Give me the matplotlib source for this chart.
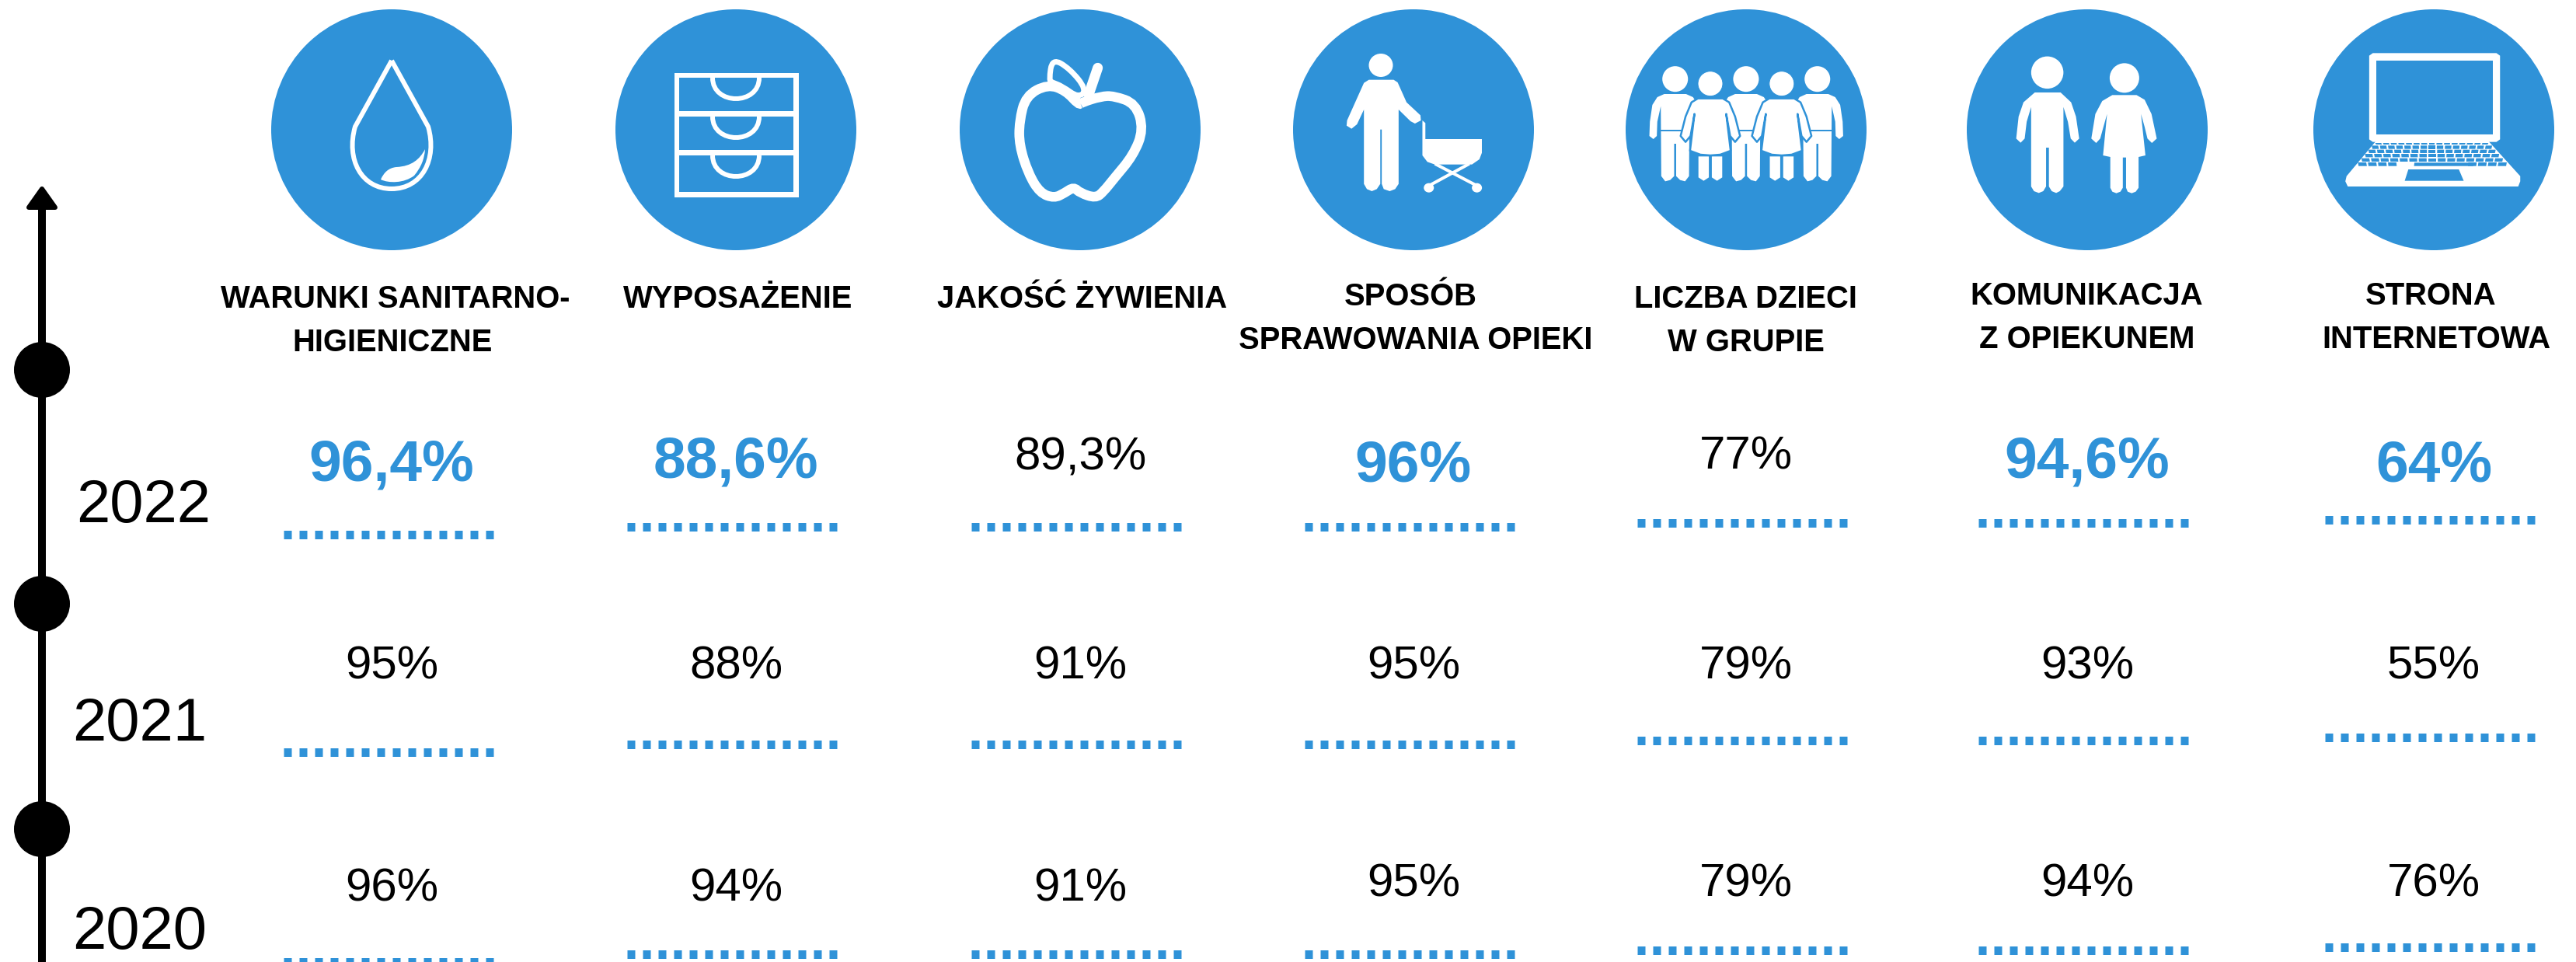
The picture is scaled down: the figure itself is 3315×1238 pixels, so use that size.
"""
Infographic: satisfaction ratings per category over three years, with icon row and year timeline
"""

import matplotlib

matplotlib.use("Agg")
import matplotlib.pyplot as plt
from matplotlib.patches import Circle, Ellipse, PathPatch, Polygon, Rectangle
from matplotlib.path import Path

plt.rcParams["font.family"] = ["Liberation Sans", "DejaVu Sans"]

BLUE = "#2f92d8"
W, H = 3315, 1238

# data
categories = [
    ["WARUNKI SANITARNO-", "HIGIENICZNE"],
    ["WYPOSAŻENIE"],
    ["JAKOŚĆ ŻYWIENIA"],
    ["SPOSÓB", "SPRAWOWANIA OPIEKI"],
    ["LICZBA DZIECI", "W GRUPIE"],
    ["KOMUNIKACJA", "Z OPIEKUNEM"],
    ["STRONA", "INTERNETOWA"],
]
years = ["2022", "2021", "2020"]
values_2022 = [96.4, 88.6, 89.3, 96, 77, 94.6, 64]
values_2021 = [95, 88, 91, 95, 79, 93, 55]
values_2020 = [96, 94, 91, 95, 79, 94, 76]
highlight_2022 = [True, True, False, True, False, True, True]

# layout, in pixels of the output picture
icon_x = [504, 947, 1390, 1819, 2247, 2686, 3132]
icon_y = 167
icon_r = 155
label_x = [[509, 505.5], [949.5], [1393], [1815, 1822], [2246, 2247], [2685, 2686], [3128, 3135]]
label_base = [[396, 452], [396], [396], [393, 449], [396, 452], [392, 448], [392, 448]]
value_y_2022 = [592, 587, 582, 592, 582, 587, 592]
value_y_2021 = [852] * 7
value_y_2020 = [1137, 1137, 1137, 1131, 1131, 1131, 1131]
dots_x = [365, 807, 1250, 1679, 2107, 2546, 2992]
dots_y = [688, 678, 678, 678, 673, 673, 669]
dots_step = [0, 280, 549.5]
year_x = [185, 180, 180]
year_base = [672, 953, 1221]
node_y = [476, 777, 1067]


def px(n):
    return n * 0.72


def zmap(points, x0, fx, fy):
    return [(x0 + x / fx, y / fy) for x, y in points]


def smooth_closed(points):
    # quadratic spline through the midpoints of a closed polygon
    mid = lambda a, b: ((a[0] + b[0]) / 2, (a[1] + b[1]) / 2)
    n = len(points)
    verts = [mid(points[-1], points[0])]
    codes = [Path.MOVETO]
    for i in range(n):
        verts += [points[i], mid(points[i], points[(i + 1) % n])]
        codes += [Path.CURVE3, Path.CURVE3]
    return Path(verts, codes)


def white_poly(ax, points, edge="white", lw=1.5, z=3):
    ax.add_patch(Polygon(points, closed=True, facecolor="white", edgecolor=edge,
                         linewidth=px(lw), joinstyle="round", zorder=z))


def blue_poly(ax, points, z=4):
    ax.add_patch(Polygon(points, closed=True, facecolor=BLUE, edgecolor="none", zorder=z))


def draw_drop(ax):
    outline = Path(
        [(504, 78), (457, 163), (445, 205), (465, 243), (504, 243), (543, 243), (563, 205),
         (551, 163), (504, 78)],
        [Path.MOVETO, Path.LINETO, Path.CURVE4, Path.CURVE4, Path.CURVE4, Path.CURVE4,
         Path.CURVE4, Path.CURVE4, Path.LINETO],
    )
    ax.add_patch(PathPatch(outline, fill=False, edgecolor="white", linewidth=px(6),
                           joinstyle="miter", zorder=3))
    leaf = Path(
        [(547, 192), (540, 205), (530, 214), (510, 215), (500, 216), (494, 222), (490, 231),
         (500, 236), (520, 236), (533, 226), (542, 215), (546, 205), (547, 192)],
        [Path.MOVETO] + [Path.CURVE4] * 12,
    )
    ax.add_patch(PathPatch(leaf, facecolor="white", edgecolor="none", zorder=3))


def draw_drawers(ax):
    ax.add_patch(Rectangle((868, 94), 160, 160, facecolor="white", edgecolor="none", zorder=3))
    for top, bottom in [(100, 143), (150, 193), (200, 247)]:
        ax.add_patch(Rectangle((874, top), 147, bottom - top, facecolor=BLUE, zorder=4))
        handle = Path(
            [(917, top), (917, top + 36), (977, top + 36), (977, top)],
            [Path.MOVETO, Path.CURVE4, Path.CURVE4, Path.CURVE4],
        )
        ax.add_patch(PathPatch(handle, fill=False, edgecolor="white", linewidth=px(6), zorder=5))


def draw_apple(ax):
    apple = [(578, 395), (650, 372), (700, 370), (785, 400), (815, 500), (775, 600), (700, 690),
             (660, 740), (630, 765), (570, 745), (545, 722), (510, 745), (470, 765), (415, 745),
             (370, 670), (335, 560), (335, 470), (360, 370), (445, 325), (515, 350), (565, 405)]
    ax.add_patch(PathPatch(smooth_closed(zmap(apple, 1200, 3, 3)), fill=False, edgecolor="white",
                           linewidth=px(12.5), zorder=3))
    leaf = [(450, 310), (462, 225), (530, 265), (595, 345), (565, 378), (500, 332), (462, 318)]
    ax.add_patch(PathPatch(smooth_closed(zmap(leaf, 1200, 3, 3)), fill=False, edgecolor="white",
                           linewidth=px(7), zorder=3))
    stem = zmap([(603, 365), (638, 262)], 1200, 3, 3)
    ax.plot(*zip(*stem), color="white", lw=px(13), solid_capstyle="round", zorder=3)


def draw_caregiver(ax):
    m = lambda p: zmap(p, 1620, 1.568, 3)
    ax.add_patch(Ellipse((1777, 84), 31, 30, facecolor="white", zorder=3))
    body = [(222, 308), (272, 308), (280, 318), (298, 395), (326, 445), (327, 465), (315, 477),
            (306, 468), (282, 423), (282, 710), (275, 730), (264, 738), (252, 730), (248, 710),
            (248, 500), (245, 500), (245, 710), (238, 730), (228, 738), (218, 730), (212, 710),
            (212, 423), (198, 480), (187, 497), (177, 485), (178, 465), (212, 320)]
    white_poly(ax, m(body), edge="none")
    pram = [(330, 465), (336, 475), (336, 537), (450, 537), (450, 590), (445, 615), (430, 635),
            (355, 635), (340, 625), (330, 600)]
    white_poly(ax, m(pram), edge="none")
    for line in ([(358, 635), (435, 712)], [(422, 635), (348, 712)]):
        ax.plot(*zip(*m(line)), color="white", lw=px(4), zorder=3)
    for wx in (343, 440):
        cx, cy = m([(wx, 725)])[0]
        ax.add_patch(Ellipse((cx, cy), 13, 12, facecolor="white", zorder=3))


def draw_group(ax):
    m = lambda p: zmap(p, 1620, 1.568, 3)
    boy = [(-22, 363), (22, 363), (36, 375), (46, 405), (51, 470), (52, 525), (44, 537), (37, 525),
           (36, 470), (29, 410), (28, 680), (20, 700), (10, 695), (2, 680), (2, 555), (-2, 555),
           (-2, 680), (-10, 695), (-20, 700), (-28, 680), (-29, 410), (-36, 470), (-37, 525),
           (-44, 537), (-52, 525), (-51, 470), (-46, 405), (-36, 375)]
    girl = [(-25, 380), (25, 380), (38, 395), (50, 450), (60, 525), (50, 548), (40, 525), (32, 440),
            (41, 582), (20, 597), (0, 600), (-20, 597), (-41, 582), (-32, 440), (-40, 525),
            (-50, 548), (-60, 525), (-50, 450), (-38, 395)]
    for cx in (840, 983, 1127):
        white_poly(ax, m([(cx + dx, y) for dx, y in boy]), edge="none", z=3)
        hx, hy = m([(cx, 305)])[0]
        ax.add_patch(Ellipse((hx, hy), 33, 33, facecolor="white", zorder=3))
        bx, by = m([(cx - 29, 500)])[0]
        ax.add_patch(Rectangle((bx, by), 37, 2.7, facecolor=BLUE, zorder=3.5))
    for cx in (911, 1055):
        white_poly(ax, m([(cx + dx, y) for dx, y in girl]), edge=BLUE, lw=2.5, z=5)
        hx, hy = m([(cx, 323)])[0]
        ax.add_patch(Ellipse((hx, hy), 32, 32, facecolor="white", edgecolor=BLUE, linewidth=px(1),
                             zorder=5))
        for dx1, dx2 in ((-24, -3), (3, 24)):
            leg = [(cx + dx1, 604), (cx + dx2, 604), (cx + dx2, 685), (cx + (dx1 + dx2) / 2, 698),
                   (cx + dx1, 685)]
            white_poly(ax, m(leg), edge="none", z=4.5)


def draw_couple(ax):
    m = lambda p: zmap(p, 2500, 1.924, 3)
    hx, hy = m([(259, 280)])[0]
    ax.add_patch(Ellipse((hx, hy), 41.5, 41.5, facecolor="white", zorder=3))
    boy = [(228, 357), (292, 357), (318, 395), (330, 450), (338, 535), (327, 551), (317, 535),
           (310, 470), (299, 413), (299, 720), (290, 738), (281, 745), (270, 738), (263, 720),
           (263, 570), (256, 570), (256, 720), (249, 738), (238, 745), (226, 738), (219, 720),
           (219, 413), (208, 470), (203, 535), (193, 551), (182, 535), (188, 450), (200, 395)]
    white_poly(ax, m(boy), edge="none")
    hx, hy = m([(450, 301)])[0]
    ax.add_patch(Ellipse((hx, hy), 38, 38, facecolor="white", zorder=3))
    girl = [(420, 367), (480, 367), (500, 385), (517, 440), (530, 535), (518, 552), (507, 535),
            (500, 490), (491, 440), (502, 600), (485, 606), (485, 725), (478, 740), (468, 746),
            (458, 740), (454, 725), (454, 608), (446, 608), (446, 725), (440, 740), (430, 746),
            (420, 740), (415, 725), (415, 606), (397, 600), (407, 440), (398, 490), (390, 535),
            (380, 552), (368, 535), (378, 440), (395, 390)]
    white_poly(ax, m(girl), edge="none")


def draw_laptop(ax):
    m = lambda p: zmap(p, 2500, 1.924, 3)
    white_poly(ax, m([(1065, 205), (1371, 205), (1380, 215), (1380, 538), (1371, 548), (1065, 548),
                      (1056, 538), (1056, 215)]), edge="none")
    blue_poly(ax, m([(1073, 233), (1363, 233), (1363, 520), (1073, 520)]))
    white_poly(ax, m([(1072, 546), (1352, 546), (1430, 680), (1430, 700), (1425, 720), (1003, 720),
                      (997, 700), (1000, 680)]), edge="none")
    blue_poly(ax, m([(1153, 654), (1278, 654), (1290, 698), (1144, 698)]))
    rows = [(552, 558), (562, 575), (578, 591), (594, 607), (611, 624), (627, 641)]
    for top, bottom in rows:
        left = 1076 - (bottom - 552) * 0.52
        right = 1350 + (bottom - 552) * 0.55
        step = (right - left) / 15
        for k in range(15):
            x1 = left + k * step
            x2 = x1 + step - 4
            lean = (k - 7) * 0.25
            if top == 627 and 4 <= k < 11:
                continue
            blue_poly(ax, m([(x1 + lean, top), (x2 + lean, top), (x2, bottom), (x1, bottom)]))
    blue_poly(ax, m([(1168, 628), (1312, 628), (1314, 641), (1167, 641)]))


fig, ax = plt.subplots(figsize=(W / 100, H / 100), dpi=100)
fig.subplots_adjust(left=0, right=1, bottom=0, top=1)
ax.set_xlim(0, W)
ax.set_ylim(H, 0)
ax.axis("off")

# timeline
ax.plot([54, 54], [262, H], color="black", lw=px(10), solid_capstyle="butt", zorder=2)
ax.add_patch(Polygon([(54, 243), (37, 267), (71, 267)], closed=True, facecolor="black",
                     edgecolor="black", linewidth=px(6), joinstyle="round", zorder=2))
for y in node_y:
    ax.add_patch(Circle((54, y), 36, facecolor="black", edgecolor="none", zorder=2))
for year, x, y in zip(years, year_x, year_base):
    ax.text(x, y, year, fontsize=px(78), ha="center", va="baseline", color="black")

# icons
for x in icon_x:
    ax.add_patch(Circle((x, icon_y), icon_r, facecolor=BLUE, edgecolor="none", zorder=1))
draw_drop(ax)
draw_drawers(ax)
draw_apple(ax)
draw_caregiver(ax)
draw_group(ax)
draw_couple(ax)
draw_laptop(ax)

# category labels
for lines, xs, bases in zip(categories, label_x, label_base):
    for line, x, y in zip(lines, xs, bases):
        ax.text(x, y, line, fontsize=px(40), fontweight="bold", ha="center", va="baseline",
                color="black")


def fmt(v):
    return f"{v:g}%".replace(".", ",")


# values and dotted rules
rows = [
    (values_2022, value_y_2022, highlight_2022),
    (values_2021, value_y_2021, [False] * 7),
    (values_2020, value_y_2020, [False] * 7),
]
for r, (values, ys, marks) in enumerate(rows):
    for c, v in enumerate(values):
        if marks[c]:
            ax.text(icon_x[c], ys[c] + 27, fmt(v), fontsize=px(75), fontweight="bold", color=BLUE,
                    ha="center", va="baseline")
        else:
            ax.text(icon_x[c], ys[c] + 22, fmt(v), fontsize=px(60), color="black", ha="center",
                    va="baseline")
        y = dots_y[c] + dots_step[r]
        ax.plot([dots_x[c], dots_x[c] + 270], [y, y], color=BLUE, lw=px(11),
                linestyle=(0, (10 / 11, 10 / 11)), dash_capstyle="butt", zorder=2)

fig.savefig("out.png", dpi=100, facecolor="white")
